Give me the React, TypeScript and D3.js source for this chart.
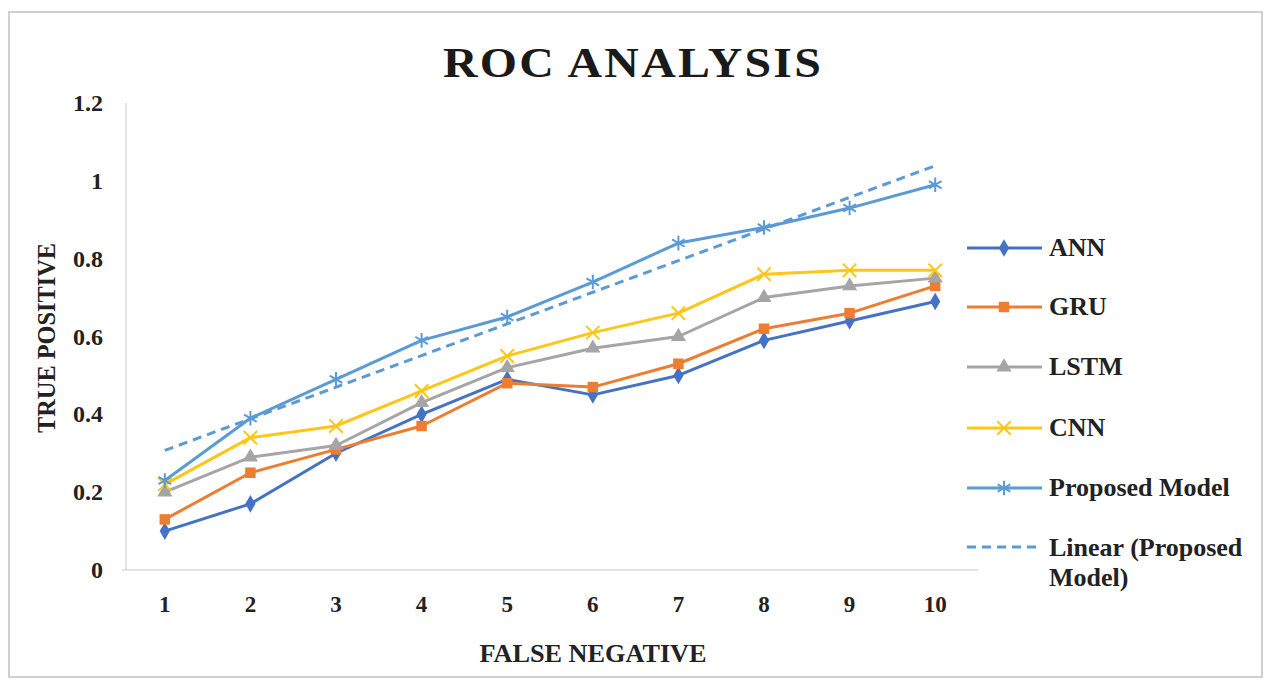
import React from 'react';
import * as d3 from 'd3';

const categories = ['1', '2', '3', '4', '5', '6', '7', '8', '9', '10'];
const yTicks = [0, 0.2, 0.4, 0.6, 0.8, 1, 1.2];

const annValues = [0.10, 0.17, 0.30, 0.40, 0.49, 0.45, 0.50, 0.59, 0.64, 0.69];
const gruValues = [0.13, 0.25, 0.31, 0.37, 0.48, 0.47, 0.53, 0.62, 0.66, 0.73];
const lstmValues = [0.20, 0.29, 0.32, 0.43, 0.52, 0.57, 0.60, 0.70, 0.73, 0.75];
const cnnValues = [0.22, 0.34, 0.37, 0.46, 0.55, 0.61, 0.66, 0.76, 0.77, 0.77];
const proposedValues = [0.23, 0.39, 0.49, 0.59, 0.65, 0.74, 0.84, 0.88, 0.93, 0.99];

const seriesNames = ['ANN', 'GRU', 'LSTM', 'CNN', 'Proposed Model'];
const seriesColors = ['#4472C4', '#ED7D31', '#A5A5A5', '#FFC61A', '#5B9BD5'];
const seriesValues = [annValues, gruValues, lstmValues, cnnValues, proposedValues];

const W = 1280;
const H = 681;
const margin = { left: 122, right: 978, top: 103, bottom: 570 };
const FONT = '"Liberation Serif", "Times New Roman", serif';

// least squares trend of the proposed model, like Excel's linear trendline
function linearTrend(values: number[]) {
  const xs = values.map((_, i) => i + 1);
  const mx = d3.mean(xs) as number;
  const my = d3.mean(values) as number;
  const sxy = d3.sum(xs, (x, i) => (x - mx) * (values[i] - my));
  const sxx = d3.sum(xs, x => (x - mx) * (x - mx));
  const slope = sxy / sxx;
  return xs.map(x => my + slope * (x - mx));
}

function marker(kind: number, color: string, cx: number, cy: number, key: string) {
  const t = `translate(${cx},${cy})`;
  if (kind === 0) {
    return <path key={key} transform={t} d={d3.symbol(d3.symbolDiamond, 90)() as string} fill={color} />;
  }
  if (kind === 1) {
    return <path key={key} transform={t} d={d3.symbol(d3.symbolSquare, 110)() as string} fill={color} />;
  }
  if (kind === 2) {
    return <path key={key} transform={t} d={d3.symbol(d3.symbolTriangle, 100)() as string} fill={color} />;
  }
  if (kind === 3) {
    return (
      <path key={key} transform={t} d={d3.symbol(d3.symbolTimes, 120)() as string}
        fill="none" stroke={color} strokeWidth={2} />
    );
  }
  return (
    <path key={key} transform={t} d={d3.symbol(d3.symbolAsterisk, 150)() as string}
      fill="none" stroke={color} strokeWidth={2} />
  );
}

export default function App() {
  const x = d3.scalePoint<string>().domain(categories).range([margin.left, margin.right]).padding(0.5);
  const y = d3.scaleLinear().domain([0, 1.2]).range([margin.bottom, margin.top]);

  const line = d3.line<number>()
    .x((_, i) => x(categories[i]) as number)
    .y(d => y(d));

  const trend = linearTrend(proposedValues);

  const legendY = [248, 307, 367, 428, 488];
  const legendText = { fontFamily: FONT, fontWeight: 'bold', fontSize: 26, fill: '#222' } as const;

  return (
    <svg width={W} height={H} style={{ position: 'absolute', left: 0, top: 0, background: '#fff' }}>
      <rect x={9} y={12} width={1253} height={665} fill="#fff" stroke="#d0d0d0" strokeWidth={2} />

      <text x={633} y={77} textAnchor="middle" fontFamily={FONT} fontWeight="bold" fontSize={43}
        letterSpacing={2} textLength={380} lengthAdjust="spacingAndGlyphs" fill="#1a1a1a">ROC ANALYSIS</text>

      {/* axes */}
      <line x1={126} x2={126} y1={margin.top} y2={margin.bottom} stroke="#d9d9d9" strokeWidth={1.5} />
      <line x1={margin.left} x2={margin.right} y1={margin.bottom} y2={margin.bottom} stroke="#d9d9d9" strokeWidth={1.5} />

      {yTicks.map(t => (
        <text key={t} x={103} y={y(t) + 8} textAnchor="end" fontFamily={FONT} fontWeight="bold"
          fontSize={24} fill="#222">{String(t)}</text>
      ))}
      {categories.map(c => (
        <text key={c} x={x(c)} y={612} textAnchor="middle" fontFamily={FONT} fontWeight="bold"
          fontSize={23} fill="#222">{c}</text>
      ))}

      <text transform="translate(55,338) rotate(-90)" textAnchor="middle" fontFamily={FONT}
        fontWeight="bold" fontSize={25} textLength={190} lengthAdjust="spacingAndGlyphs" fill="#222">TRUE POSITIVE</text>
      <text x={593} y={662} textAnchor="middle" fontFamily={FONT} fontWeight="bold" fontSize={25}
        textLength={227} lengthAdjust="spacingAndGlyphs" fill="#222">FALSE NEGATIVE</text>

      {/* series */}
      {seriesValues.map((vals, s) => (
        <g key={seriesNames[s]}>
          <path d={line(vals) as string} fill="none" stroke={seriesColors[s]} strokeWidth={3} strokeLinejoin="round" />
          {vals.map((v, i) => marker(s, seriesColors[s], x(categories[i]) as number, y(v), `${s}-${i}`))}
        </g>
      ))}

      <path d={line(trend) as string} fill="none" stroke="#5B9BD5" strokeWidth={3} strokeDasharray="9,6" />

      {/* legend */}
      {seriesNames.map((name, s) => (
        <g key={name}>
          <line x1={967} x2={1042} y1={legendY[s]} y2={legendY[s]} stroke={seriesColors[s]} strokeWidth={3} />
          {marker(s, seriesColors[s], 1004, legendY[s], `lg-${s}`)}
          <text x={1049} y={legendY[s] + 8} {...legendText}>{name}</text>
        </g>
      ))}
      <line x1={967} x2={1042} y1={547} y2={547} stroke="#5B9BD5" strokeWidth={3} strokeDasharray="9,6" />
      <text x={1049} y={556} {...legendText}>Linear (Proposed</text>
      <text x={1049} y={586} {...legendText}>Model)</text>
    </svg>
  );
}
